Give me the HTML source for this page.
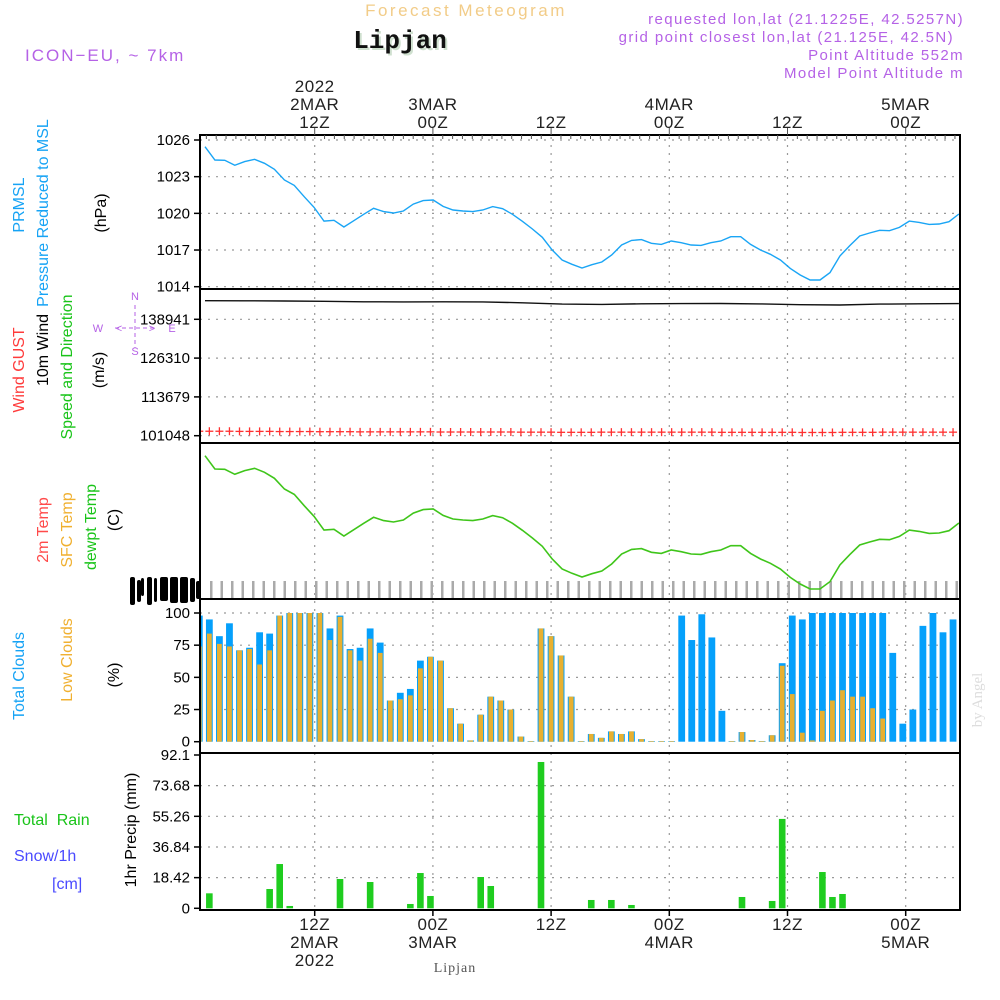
<!DOCTYPE html>
<html><head><meta charset="utf-8"><title>Meteogram Lipjan</title>
<style>
html,body{margin:0;padding:0;background:#fff;}
svg{display:block;font-family:"Liberation Sans",sans-serif;}
</style></head>
<body>
<svg id="chart" width="1000" height="1000" viewBox="0 0 1000 1000">
<g id="header">
<text x="466" y="16" text-anchor="middle" font-size="17" fill="#f2cc88" letter-spacing="2.5">Forecast Meteogram</text>
<text x="402" y="50" text-anchor="middle" font-size="26" font-weight="bold" font-family="Liberation Mono, monospace" fill="#cfe0cf">Lipjan</text>
<text x="400" y="48" text-anchor="middle" font-size="26" font-weight="bold" font-family="Liberation Mono, monospace" fill="#111">Lipjan</text>
<text x="25" y="61" font-size="17" fill="#b562e6" letter-spacing="2">ICON−EU, ~ 7km</text>
<text x="964" y="24" text-anchor="end" font-size="15" fill="#b562e6" letter-spacing="1.4">requested lon,lat (21.1225E, 42.5257N)</text>
<text x="954" y="42" text-anchor="end" font-size="15" fill="#b562e6" letter-spacing="1.4">grid point closest lon,lat (21.125E, 42.5N)</text>
<text x="964" y="60" text-anchor="end" font-size="15" fill="#b562e6" letter-spacing="1.4">Point Altitude 552m</text>
<text x="964" y="78" text-anchor="end" font-size="15" fill="#b562e6" letter-spacing="1.4">Model Point Altitude m</text>
</g>
<g id="leftlabels" font-size="16">
<text transform="translate(24,205) rotate(-90)" text-anchor="middle" fill="#16a3f5">PRMSL</text>
<text transform="translate(48,213) rotate(-90)" text-anchor="middle" fill="#16a3f5">Pressure Reduced to MSL</text>
<text transform="translate(106,213) rotate(-90)" text-anchor="middle" fill="#000">(hPa)</text>
<text transform="translate(24,370) rotate(-90)" text-anchor="middle" fill="#ff3b3b">Wind GUST</text>
<text transform="translate(48,350) rotate(-90)" text-anchor="middle" fill="#000">10m Wind</text>
<text transform="translate(72,367) rotate(-90)" text-anchor="middle" fill="#19c419">Speed and Direction</text>
<text transform="translate(104,370) rotate(-90)" text-anchor="middle" fill="#000">(m/s)</text>
<g fill="#b562e6" stroke="none" font-size="11">
<text x="135" y="300" text-anchor="middle">N</text>
<text x="98" y="332" text-anchor="middle">W</text>
<text x="172" y="332" text-anchor="middle">E</text>
<text x="135" y="355" text-anchor="middle">S</text>
<text x="119" y="332" text-anchor="middle">&lt;</text>
<text x="152" y="332" text-anchor="middle">&gt;</text>
<line x1="115" y1="328" x2="155" y2="328" stroke="#b562e6" stroke-dasharray="4,3"/>
<line x1="135" y1="305" x2="135" y2="348" stroke="#b562e6" stroke-dasharray="4,3"/>
</g>
<text transform="translate(48,530) rotate(-90)" text-anchor="middle" fill="#ff4a4a">2m Temp</text>
<text transform="translate(72,530) rotate(-90)" text-anchor="middle" fill="#f0b030">SFC Temp</text>
<text transform="translate(96,527) rotate(-90)" text-anchor="middle" fill="#19c419">dewpt Temp</text>
<text transform="translate(119,520) rotate(-90)" text-anchor="middle" fill="#000">(C)</text>
<text transform="translate(24,676) rotate(-90)" text-anchor="middle" fill="#16a3f5">Total Clouds</text>
<text transform="translate(72,660) rotate(-90)" text-anchor="middle" fill="#f0b030">Low Clouds</text>
<text transform="translate(119,675) rotate(-90)" text-anchor="middle" fill="#000">(%)</text>
<text x="14" y="825" fill="#19c419" xml:space="preserve">Total  Rain</text>
<text x="14" y="861" fill="#4a4aff">Snow/1h</text>
<text x="52" y="889" fill="#4a4aff">[cm]</text>
<text transform="translate(136,830) rotate(-90)" text-anchor="middle" fill="#000">1hr Precip (mm)</text>
</g>
<text transform="translate(982,700) rotate(-90)" text-anchor="middle" font-size="15" font-family="Liberation Serif, serif" fill="#dddddd">by Angel</text>
<text x="455" y="972" text-anchor="middle" font-size="14" font-family="Liberation Serif, serif" fill="#555" letter-spacing="1">Lipjan</text>
<g id="plots"></g>
</svg>
<script>
// ---- data ----
const pressureHpa = [1025.45,1024.36,1024.34,1023.93,1024.23,1024.42,1024.09,1023.6,1022.73,1022.29,1021.36,1020.49,1019.37,1019.43,1018.88,1019.4,1019.92,1020.41,1020.14,1020.03,1020.19,1020.76,1021.04,1021.09,1020.57,1020.27,1020.19,1020.14,1020.27,1020.55,1020.38,1019.92,1019.35,1018.72,1018.04,1017.0,1016.18,1015.83,1015.53,1015.8,1016.02,1016.59,1017.41,1017.79,1017.85,1017.55,1017.46,1017.74,1017.6,1017.41,1017.38,1017.6,1017.74,1018.09,1018.09,1017.46,1017.0,1016.65,1016.18,1015.5,1014.96,1014.55,1014.55,1015.15,1016.51,1017.36,1018.15,1018.39,1018.61,1018.58,1018.85,1019.37,1019.26,1019.1,1019.13,1019.32,1019.95];
const dewptC = [5.45,4.36,4.34,3.93,4.23,4.42,4.09,3.6,2.73,2.29,1.36,0.49,-0.63,-0.57,-1.12,-0.6,-0.08,0.41,0.14,0.03,0.19,0.76,1.04,1.09,0.57,0.27,0.19,0.14,0.27,0.55,0.38,-0.08,-0.65,-1.28,-1.96,-3.0,-3.82,-4.17,-4.47,-4.2,-3.98,-3.41,-2.59,-2.21,-2.15,-2.45,-2.54,-2.26,-2.4,-2.59,-2.62,-2.4,-2.26,-1.91,-1.91,-2.54,-3.0,-3.35,-3.82,-4.5,-5.04,-5.45,-5.45,-4.85,-3.49,-2.64,-1.85,-1.61,-1.39,-1.42,-1.15,-0.63,-0.74,-0.9,-0.87,-0.68,-0.05];
const windStep = [0,4,8,12,16,20,24,28,32,36,40,44,48,52,56,60,64,68,72,76];
const wind10m = [145000,144950,144900,144800,144650,144600,144650,144600,144300,143900,143800,144000,144050,144100,143950,143700,143600,143900,144000,144050];
const windGust = [102500,102450,102400,102350,102300,102300,102250,102250,102200,102150,102200,102200,102200,102150,102150,102100,102150,102200,102200,102200];
const totalClouds = [98,95,82,92,71,73,85,84,98,100,100,100,100,88,98,72,73,88,77,32,38,41,63,66,63,26,14,1,21,35,32,25,4,0.5,88,82,67,35,0.5,6,3,8,6,8,2,0.5,0.5,0.5,98,79,99,81,24,0.5,7.5,1.3,0.5,5,61,98,95,100,100,100,100,100,100,100,100,69,14,25,90,100,85,95,74];
const lowClouds = [74,84,76,74,71,72,60,71,98,100,100,100,100,79,97,71,63,80,69,32,33,36,57,66,63,26,14,1,21,35,32,25,4,0.5,88,82,67,35,0.5,6,3,8,6,8,2,0.5,0.5,0.5,0,0,0,0,0,0.5,7.5,1.3,0.5,5,59,37,7,1,24,32,40,35,35,26,18,0,0,0,0,0,0,0,1];
const precipStep = [1,7,8,9,14,17,21,22,23,28,29,34,39,41,43,54,57,58,62,63,64,76];
const precipMm = [9.0,11.6,26.6,1.4,17.6,15.8,2.6,21.2,7.4,18.8,13.4,87.9,5.0,5.0,2.0,6.8,4.4,53.7,21.8,6.8,8.6,1.2];
const pressureTicks = [1026,1023,1020,1017,1014];
const windTicks = [138941,126310,113679,101048];
const cloudTicks = [100,75,50,25,0];
const precipTicks = [92.1,73.68,55.26,36.84,18.42,0];
const timeTickHours = [12,24,36,48,60,72];
const topTickLabels = [["2022","2MAR","12Z"],["","3MAR","00Z"],["","","12Z"],["","4MAR","00Z"],["","","12Z"],["","5MAR","00Z"]];
const bottomTickLabels = [["12Z","2MAR","2022"],["00Z","3MAR",""],["12Z","",""],["00Z","4MAR",""],["12Z","",""],["00Z","5MAR",""]];

// ---- scales ----
const X0=200, X1=960;
const xt = h => 196.5 + h*9.85;
const xb = i => 199.3 + i*10.05;
const xl = i => 205 + i*9.92;
const yP = v => 140 + (1026 - v)*12.225;
const yW = v => 435.7 - (v - 101048)/12631*38.8;
const yT = v => 449 + (6 - v)*12.225;
const yC = v => 741.7 - v*1.287;
const yR = v => 908.3 - v/92.1*153.3;
const panels = [[135,289,'pressure-panel'],[289,443,'wind-panel'],[443,599,'temperature-panel'],[599,753,'clouds-panel'],[753,910,'precip-panel']];

const NS='http://www.w3.org/2000/svg';
const root=document.getElementById('plots');
function mk(tag, attrs, parent){const e=document.createElementNS(NS,tag);for(const k in attrs)e.setAttribute(k,attrs[k]);(parent||root).appendChild(e);return e;}

const defs=mk('defs',{});
const cp=mk('clipPath',{id:'plotclip'},defs);
mk('rect',{x:X0,y:130,width:X1-X0,height:785},cp);

const grid=mk('g',{stroke:'#999','stroke-dasharray':'2,6','stroke-width':1.2});


timeTickHours.forEach(h=>{ mk('line',{x1:xt(h),x2:xt(h),y1:137,y2:908},grid); });
pressureTicks.forEach(v=>{ mk('line',{x1:X0,x2:X1,y1:yP(v),y2:yP(v)},grid); });
windTicks.forEach(v=>{ mk('line',{x1:X0,x2:X1,y1:yW(v),y2:yW(v)},grid); });
cloudTicks.forEach(v=>{ if(v>0) mk('line',{x1:X0,x2:X1,y1:yC(v),y2:yC(v)},grid); });
precipTicks.forEach(v=>{ if(v>0 && v<90) mk('line',{x1:X0,x2:X1,y1:yR(v),y2:yR(v)},grid); });

function yTicks(arr, f, name){
  const g=mk('g',{'font-size':15,'text-anchor':'end',fill:'#000'});
  
  
  arr.forEach(v=>{
    const y=f(v);
    mk('line',{x1:X0-6,x2:X0,y1:y,y2:y,stroke:'#000','stroke-width':1.5},g);
    const t=mk('text',{x:X0-10,y:y+5},g); t.textContent=String(v);
  });
}
yTicks(pressureTicks,yP,'pressure-y-ticks');
yTicks(windTicks,yW,'wind-y-ticks');
yTicks(cloudTicks,yC,'clouds-y-ticks');
yTicks(precipTicks,yR,'precip-y-ticks');

const garb=mk('g',{fill:'#000'});


[[130,577,5,28],[137,580,4,22],[141,578,3,18],[147,577,5,28],[154,578,3,24],[160,577,8,24],[170,577,8,26],[180,577,8,26],[190,578,5,24],[196,581,5,18]].forEach(r=>{mk('rect',{x:r[0],y:r[1],width:r[2],height:r[3],rx:2},garb);});

const gticks=mk('g',{fill:'#aaa'});


for(let k=0;k<72;k++){ mk('rect',{x:210+k*10.5,y:581,width:2.5,height:17},gticks); }

const cg=mk('g',{'clip-path':'url(#plotclip)'});


totalClouds.forEach((v,i)=>{
  const r=mk('rect',{x:xb(i)-3.4,y:yC(v),width:6.8,height:yC(0)-yC(v),fill:'#05a0fb'},cg);
  
  
});
lowClouds.forEach((v,i)=>{
  const r=mk('rect',{x:xb(i)-2.4,y:yC(v),width:4.8,height:yC(0)-yC(v),fill:'#e8b030'},cg);
  
  
});

const pg=mk('g',{'clip-path':'url(#plotclip)'});


precipMm.forEach((v,k)=>{
  const i=precipStep[k];
  const r=mk('rect',{x:xb(i)-3.3,y:yR(v),width:6.6,height:yR(0)-yR(v),fill:'#1fcd1f'},pg);
  
  
});

function line(arr,xf,yf,color,name,w){
  const p=mk('polyline',{points:arr.map((v,i)=>xf(i).toFixed(1)+','+yf(v).toFixed(1)).join(' '),fill:'none',stroke:color,'stroke-width':w||1.4,'clip-path':'url(#plotclip)'});
  
  
}
line(pressureHpa,xl,yP,'#1aa5f5','pressure-line');
line(dewptC,xl,yT,'#3fc51a','dewpoint-line',1.6);
const wp=mk('polyline',{points:wind10m.map((v,k)=>xl(windStep[k]).toFixed(1)+','+yW(v).toFixed(1)).join(' '),fill:'none',stroke:'#111','stroke-width':1.4});


const gg=mk('g',{stroke:'#ff3030','stroke-width':1.3,'clip-path':'url(#plotclip)'});


for(let i=0;i<77;i++){
  const k=Math.min(windStep.length-1,Math.floor(i/4));
  const x=xb(i), y=yW(windGust[k]);
  mk('line',{x1:x-4,x2:x+4,y1:y,y2:y},gg);
  mk('line',{x1:x,x2:x,y1:y-4,y2:y+4},gg);
}

panels.forEach(p=>{
  const r=mk('rect',{x:X0,y:p[0],width:X1-X0,height:p[1]-p[0],fill:'none',stroke:'#000','stroke-width':2});
  
  
});

const ta=mk('g',{'font-size':17,'text-anchor':'middle',fill:'#222','letter-spacing':'0.5'});


for(let h=1;h<78;h++){ mk('line',{x1:xt(h),x2:xt(h),y1:135,y2:h%12===0?127:139,stroke:'#555','stroke-width':1},ta); }
timeTickHours.forEach((h,k)=>{
  topTickLabels[k].forEach((s,j)=>{ if(s){ const t=mk('text',{x:xt(h),y:92+j*18},ta); t.textContent=s; } });
});
const ba=mk('g',{'font-size':17,'text-anchor':'middle',fill:'#222','letter-spacing':'0.5'});


timeTickHours.forEach((h,k)=>{
  mk('line',{x1:xt(h),x2:xt(h),y1:910,y2:916,stroke:'#000','stroke-width':1.5},ba);
  bottomTickLabels[k].forEach((s,j)=>{ if(s){ const t=mk('text',{x:xt(h),y:930+j*18},ba); t.textContent=s; } });
});
</script>
</body></html>
